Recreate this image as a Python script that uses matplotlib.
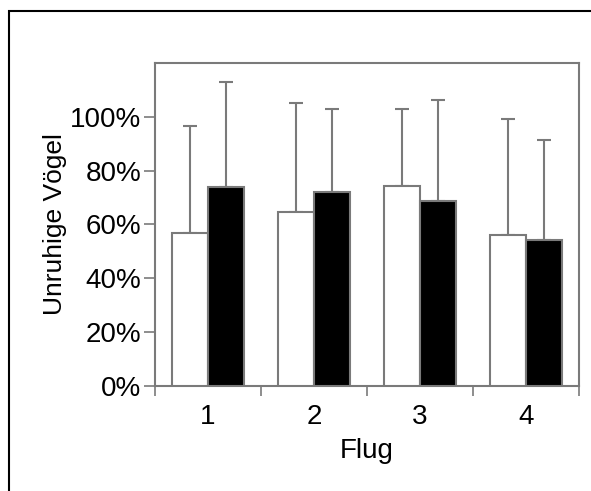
import numpy as np
import matplotlib.pyplot as plt
from matplotlib.patches import Rectangle

# Daten
fluege = ["1", "2", "3", "4"]
weiss = [56.7, 64.8, 74.3, 56.0]
weiss_fehler = [40.0, 40.3, 28.6, 43.3]
schwarz = [74.1, 71.9, 68.8, 54.3]
schwarz_fehler = [38.8, 31.0, 37.5, 37.0]

plt.rcParams['font.family'] = ['Liberation Sans', 'DejaVu Sans']
grau = '#7a7a7a'

fig = plt.figure(figsize=(5.91, 4.91), dpi=100)
ax = fig.add_axes([155/591, 105/491, 424/591, 323/491])

x = np.arange(1, len(fluege) + 1)
b = 0.34
ax.bar(x - b/2, weiss, b, color='white', edgecolor=grau, linewidth=1.5, zorder=3)
ax.bar(x + b/2, schwarz, b, color='black', edgecolor=grau, linewidth=1.5, zorder=3)
ax.errorbar(x - b/2, weiss, yerr=[np.zeros(4), weiss_fehler], fmt='none',
            ecolor=grau, elinewidth=1.5, capsize=5, capthick=1.5, zorder=2)
ax.errorbar(x + b/2, schwarz, yerr=[np.zeros(4), schwarz_fehler], fmt='none',
            ecolor=grau, elinewidth=1.5, capsize=5, capthick=1.5, zorder=2)

ax.set_xlim(0.5, 4.5)
ax.set_ylim(0, 120)
ax.set_yticks([0, 20, 40, 60, 80, 100])
ax.set_yticklabels(["0%", "20%", "40%", "60%", "80%", "100%"])
ax.set_xticks(x)
ax.set_xticklabels(fluege)
ax.set_xticks(np.arange(0.5, 4.6, 1), minor=True)
ax.tick_params(axis='x', which='major', length=0, pad=13, labelsize=20)
ax.tick_params(axis='x', which='minor', length=7, color=grau, width=1.2)
ax.tick_params(axis='y', length=8, color=grau, width=1.2, labelsize=20, pad=2)

for s in ax.spines.values():
    s.set_color(grau)
    s.set_linewidth(1.5)

ax.set_xlabel("Flug", fontsize=20, labelpad=6)
ax.set_ylabel("Unruhige Vögel", fontsize=19, labelpad=2)

# Rahmen um die Abbildung
fig.patches.append(Rectangle((9/591, -0.1), 1.0, 480/491 + 0.1, transform=fig.transFigure,
                             fill=False, edgecolor='black', linewidth=1.5))

fig.savefig("out.png", dpi=100)
